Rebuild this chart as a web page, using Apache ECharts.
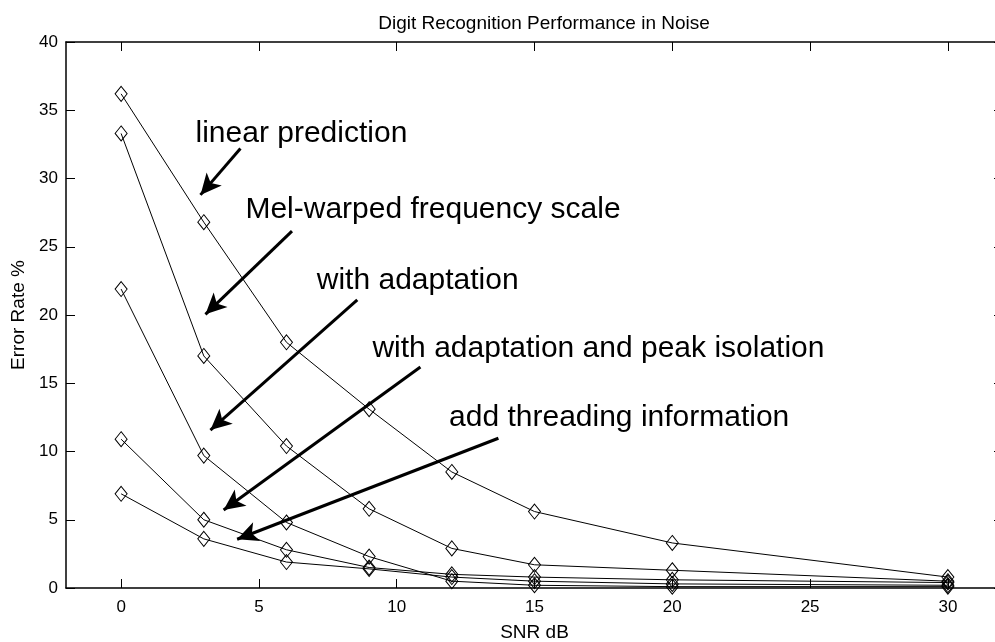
<!DOCTYPE html>
<html>
<head>
<meta charset="utf-8">
<script src="https://cdn.jsdelivr.net/npm/echarts@6/dist/echarts.min.js"></script>
<style>
  html, body { margin: 0; padding: 0; background: #fff; }
  #chart { width: 995px; height: 642px; }
</style>
</head>
<body>
<div id="chart"></div>
<script>
// SNR levels (dB) at which each recogniser was evaluated
const snr = [0, 3, 6, 9, 12, 15, 20, 30];

// Error rate (%) for each front-end
const linearPrediction   = [36.2, 26.8, 18.0, 13.1, 8.5, 5.6, 3.3, 0.8];
const melWarped          = [33.3, 17.0, 10.4, 5.8, 2.9, 1.7, 1.3, 0.5];
const withAdaptation     = [21.9, 9.7, 4.8, 2.3, 0.5, 0.2, 0.1, 0.1];
const adaptationPeakIso  = [10.9, 5.0, 2.8, 1.5, 1.0, 0.8, 0.6, 0.4];
const threadingInfo      = [6.9, 3.6, 1.9, 1.4, 0.8, 0.5, 0.3, 0.2];

const seriesNames = [
  'linear prediction',
  'Mel-warped frequency scale',
  'with adaptation',
  'with adaptation and peak isolation',
  'add threading information'
];
const seriesValues = [linearPrediction, melWarped, withAdaptation, adaptationPeakIso, threadingInfo];

// Tick labels
const xTicks = [0, 5, 10, 15, 20, 25, 30];

// Annotation text anchors (data units: SNR, error %) and arrows (tail -> head)
const noteAnchors = [
  [2.70, 33.3],
  [4.51, 27.7],
  [7.10, 22.5],
  [9.12, 17.5],
  [11.9, 12.45]
];
const arrowTails = [[4.33, 32.2], [6.20, 26.15], [8.57, 21.1], [10.86, 16.19], [13.69, 10.97]];
const arrowHeads = [[2.88, 28.8], [3.06, 20.05], [3.24, 11.57], [3.72, 5.71], [4.21, 3.57]];

const FONT = 'Liberation Sans, Arial, Helvetica, sans-serif';

const chart = echarts.init(document.getElementById('chart'), null, { renderer: 'canvas' });

const dataSeries = seriesValues.map((vals, i) => ({
  name: seriesNames[i],
  type: 'line',
  data: snr.map((x, j) => [x, vals[j]]),
  symbol: 'diamond',
  symbolSize: [12, 15],
  showAllSymbol: true,
  lineStyle: { color: '#000', width: 1 },
  itemStyle: { color: 'rgba(0,0,0,0)', borderColor: '#000', borderWidth: 1 },
  emphasis: { disabled: true },
  z: 3
}));

const arrowSeries = {
  type: 'line',
  data: [],
  silent: true,
  markLine: {
    silent: true,
    animation: false,
    symbol: ['none', 'arrow'],
    symbolSize: [15, 21],
    label: { show: false },
    lineStyle: { color: '#000', width: 3, type: 'solid' },
    emphasis: { disabled: true },
    data: arrowTails.map((t, i) => [{ coord: t }, { coord: arrowHeads[i] }])
  },
  z: 4
};

// Annotation captions, placed in data space to the right of each anchor
const noteSeries = {
  type: 'scatter',
  silent: true,
  symbolSize: 0,
  itemStyle: { opacity: 1 },
  data: noteAnchors.map((p, i) => [p[0], p[1], seriesNames[i]]),
  label: {
    show: true,
    position: 'right',
    distance: 0,
    formatter: (p) => p.value[2],
    color: '#000',
    opacity: 1,
    fontSize: 30,
    fontFamily: FONT
  },
  emphasis: { disabled: true },
  z: 5
};

const tickCommon = { inside: true, length: 9, lineStyle: { color: '#000', width: 1 } };
const frameLine = { show: true, onZero: false, lineStyle: { color: '#000', width: 1.5 } };

chart.setOption({
  animation: false,
  backgroundColor: '#fff',
  title: {
    text: 'Digit Recognition Performance in Noise',
    left: 539,
    top: 9,
    textAlign: 'center',
    textStyle: { fontSize: 19, fontWeight: 'normal', color: '#000', fontFamily: FONT }
  },
  grid: {
    left: 66, top: 42, width: 937, height: 546,
    containLabel: false,
    outerBoundsMode: 'none'
  },
  xAxis: [
    {
      type: 'value',
      min: -2,
      max: 32,
      position: 'bottom',
      name: 'SNR dB',
      nameLocation: 'middle',
      nameGap: 35,
      nameTextStyle: { fontSize: 19, color: '#000', fontFamily: FONT },
      axisLine: frameLine,
      axisTick: Object.assign({ customValues: xTicks }, tickCommon),
      axisLabel: { customValues: xTicks, color: '#000', fontSize: 17, fontFamily: FONT, margin: 11 },
      splitLine: { show: false }
    },
    {
      type: 'value',
      min: -2,
      max: 32,
      position: 'top',
      axisLine: frameLine,
      axisTick: Object.assign({ customValues: xTicks }, tickCommon),
      axisLabel: { show: false },
      splitLine: { show: false }
    }
  ],
  yAxis: [
    {
      type: 'value',
      min: 0,
      max: 40,
      interval: 5,
      position: 'left',
      name: 'Error Rate %',
      nameLocation: 'middle',
      nameRotate: 90,
      nameGap: 38,
      nameTextStyle: { fontSize: 19, color: '#000', fontFamily: FONT },
      axisLine: frameLine,
      axisTick: tickCommon,
      axisLabel: { color: '#000', fontSize: 17, fontFamily: FONT, margin: 8 },
      splitLine: { show: false }
    },
    {
      type: 'value',
      min: 0,
      max: 40,
      interval: 5,
      position: 'right',
      axisLine: frameLine,
      axisTick: tickCommon,
      axisLabel: { show: false },
      splitLine: { show: false }
    }
  ],
  series: dataSeries.concat([arrowSeries, noteSeries])
});
</script>
</body>
</html>
